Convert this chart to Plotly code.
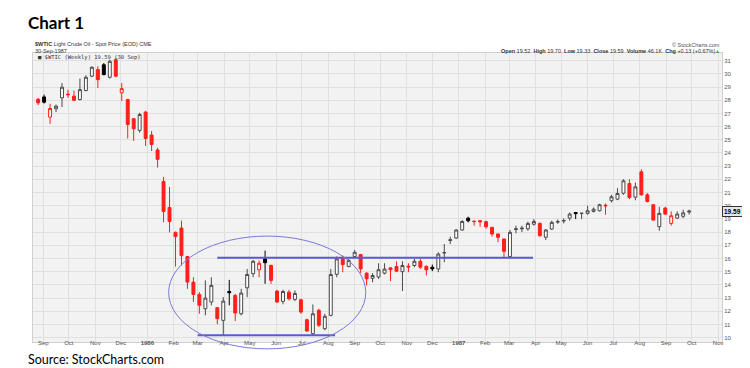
import pandas as pd
import plotly.graph_objects as go

# ---------------- data (weekly candles) ----------------
weeks = pd.date_range("1985-08-26", periods=110, freq="7D")

open_ = [28.07, 28.25, 26.72, 27.35, 28.18, 28.40, 28.31, 28.05, 28.73, 29.82,
         30.32, 30.69, 29.74, 31.07, 28.56, 28.05, 26.60, 25.71, 27.10,
         25.36, 24.23, 21.84, 19.87, 17.98, 18.31, 16.15, 14.21, 13.28, 12.19,
         12.70, 12.27, 11.31, 13.50, 13.20, 11.81, 13.78, 14.85, 15.14, 15.97,
         15.47, 13.53, 12.75, 13.45, 12.90, 12.87, 11.36, 10.30, 12.07, 10.68,
         11.69, 14.80, 16.10, 15.39, 16.15, 16.30, 14.89, 14.50, 14.60, 14.89,
         15.29, 15.39, 15.00, 15.42, 15.47, 15.79, 15.41, 15.34, 15.21, 16.42,
         17.36, 17.55,
         18.16, 19.06, 18.82, 18.87, 18.79, 18.36, 17.86, 17.48, 16.15, 18.20,
         18.25, 18.25, 18.60, 18.66, 17.61, 18.23, 18.76, 18.84, 19.06, 19.49,
         19.42, 19.42, 19.57, 19.62, 19.98, 20.38, 20.50, 20.95, 21.68, 20.65,
         22.57, 20.83, 20.08, 18.41, 19.82, 18.66, 19.06, 19.20, 19.52]

high = [28.18, 28.43, 27.73, 27.67, 29.31, 28.80, 28.73, 29.64, 29.89, 30.57,
        30.57, 30.82, 31.07, 31.20, 29.31, 28.10, 26.65, 27.05, 27.20,
        25.66, 24.40, 22.19, 21.43, 18.05, 18.87, 16.20, 14.58, 13.45, 14.34,
        14.58, 12.32, 13.07, 14.38, 13.32, 13.70, 15.21, 15.89, 15.85, 16.60,
        15.54, 13.63, 13.63, 13.63, 13.58, 12.95, 11.44, 12.52, 12.19, 11.81,
        15.21, 16.15, 16.22, 15.97, 16.65, 16.35, 14.96, 14.89, 15.64, 15.64,
        15.34, 15.79, 15.79, 15.64, 15.97, 15.97, 15.47, 15.54, 16.47, 17.10,
        17.66, 18.23,
        18.91, 19.17, 18.91, 18.88, 18.87, 18.41, 17.88, 17.50, 18.16, 18.49,
        18.49, 18.79, 18.99, 18.74, 18.23, 18.87, 18.95, 19.05, 19.49, 19.50,
        19.44, 20.00, 19.87, 20.15, 20.17, 20.83, 21.33, 22.01, 22.01, 21.76,
        22.76, 20.96, 20.10, 19.92, 19.92, 19.57, 19.57, 19.70, 19.70]

low = [27.63, 27.75, 26.21, 27.10, 27.48, 28.18, 27.93, 27.98, 28.68, 29.74,
       28.93, 29.89, 29.64, 29.74, 27.93, 25.10, 24.91, 25.54, 24.53,
       24.15, 22.90, 18.74, 17.98, 15.39, 15.47, 13.70, 12.70, 11.81, 11.69,
       12.45, 11.01, 10.20, 12.45, 11.26, 11.69, 13.07, 14.58, 14.58, 14.08,
       14.08, 12.62, 12.53, 12.82, 12.77, 11.81, 10.43, 10.18, 10.81, 10.56,
       11.62, 14.58, 14.96, 15.34, 16.04, 14.89, 13.96, 14.20, 14.46, 14.79,
       14.28, 14.96, 13.53, 14.96, 15.34, 15.21, 14.71, 15.04, 14.96, 15.72,
       17.10, 17.48,
       18.11, 18.74, 18.49, 18.41, 18.26, 17.66, 17.23, 16.09, 16.04, 17.91,
       18.00, 18.11, 18.49, 17.66, 17.40, 18.16, 18.63, 18.66, 18.87, 18.99,
       18.99, 19.32, 19.49, 19.57, 19.32, 20.25, 20.42, 20.83, 20.50, 20.42,
       20.76, 20.25, 18.87, 18.11, 19.30, 18.49, 18.99, 19.06, 19.33]

close = [27.80, 27.85, 27.37, 27.55, 28.99, 28.45, 28.00, 28.80, 29.74, 30.50,
         29.56, 29.94, 30.95, 29.82, 28.88, 26.16, 25.84, 26.92, 25.10,
         24.65, 23.52, 19.57, 18.81, 17.66, 16.22, 14.21, 13.28, 12.45, 13.00,
         13.96, 11.44, 12.77, 13.40, 11.87, 13.38, 14.79, 15.79, 15.64, 15.68,
         14.34, 12.70, 13.50, 12.95, 13.35, 11.94, 10.51, 11.81, 10.94, 11.62,
         14.79, 15.97, 15.54, 15.85, 16.47, 15.21, 14.46, 14.71, 15.15, 15.20,
         15.14, 15.04, 15.47, 15.36, 15.79, 15.34, 15.14, 15.21, 16.34, 16.45,
         17.42, 18.16,
         18.81, 18.86, 18.80, 18.78, 18.41, 17.86, 17.61, 16.55, 17.98, 18.25,
         18.30, 18.66, 18.81, 17.73, 18.16, 18.74, 18.80, 18.88, 19.37, 19.40,
         19.43, 19.62, 19.74, 20.08, 20.03, 20.68, 20.93, 21.89, 20.63, 21.43,
         20.83, 20.32, 18.91, 19.42, 19.37, 19.24, 19.37, 19.46, 19.59]

month_ticks = pd.date_range("1985-09-01", "1987-11-01", freq="MS")
month_labels = ["<b>%d</b>" % d.year if d.month == 1 else d.strftime("%b") for d in month_ticks]
price_ticks = list(range(10, 32))

support_level = 10.18
resistance_level = 16.05
support_span = ["1986-03-01", "1986-08-09"]
resistance_span = ["1986-03-24", "1987-03-29"]
base_ellipse_dates = ["1986-01-26", "1986-09-14"]
base_ellipse_prices = [9.15, 17.7]

# ---------------- figure ----------------
x_range = [pd.Timestamp("1985-08-20"), pd.Timestamp("1987-11-05 12:00")]
y_range = [9.67, 31.58]

RED = "#ff1f1a"
styles = {
    ("black", "hollow"): ("#4a4a4a", "#ffffff"),
    ("red", "hollow"): (RED, "#ffffff"),
    ("black", "filled"): ("#000000", "#000000"),
    ("red", "filled"): (RED, RED),
}

prev_close = [open_[0]] + close[:-1]
cats = []
for o, c, p in zip(open_, close, prev_close):
    cats.append(("red" if c < p else "black", "hollow" if c >= o else "filled"))

fig = go.Figure()
for key, (lc, fc) in styles.items():
    m = [k == key for k in cats]
    fig.add_trace(go.Candlestick(
        x=weeks,
        open=[v if ok else None for v, ok in zip(open_, m)],
        high=[v if ok else None for v, ok in zip(high, m)],
        low=[v if ok else None for v, ok in zip(low, m)],
        close=[v if ok else None for v, ok in zip(close, m)],
        increasing=dict(line=dict(color=lc, width=1), fillcolor=fc),
        decreasing=dict(line=dict(color=lc, width=1), fillcolor=fc),
        whiskerwidth=0,
        showlegend=False,
        hoverinfo="skip",
    ))

LINE = "#5a5ad2"
fig.add_shape(type="line", xref="x", yref="y", x0=support_span[0], x1=support_span[1],
              y0=support_level, y1=support_level, line=dict(color=LINE, width=2))
fig.add_shape(type="line", xref="x", yref="y", x0=resistance_span[0], x1=resistance_span[1],
              y0=resistance_level, y1=resistance_level, line=dict(color=LINE, width=2))


def xpaper(d):
    d = pd.Timestamp(d)
    return (d - x_range[0]) / (x_range[1] - x_range[0])


def ypaper(v):
    return (v - y_range[0]) / (y_range[1] - y_range[0])


fig.add_shape(type="circle", xref="paper", yref="paper",
              x0=xpaper(base_ellipse_dates[0]), x1=xpaper(base_ellipse_dates[1]),
              y0=ypaper(base_ellipse_prices[0]), y1=ypaper(base_ellipse_prices[1]),
              line=dict(color="#7a7ad8", width=1))

SMALL = "Liberation Sans, Arial, sans-serif"
TITLE = "Lato, 'Open Sans', sans-serif"
ann = []
ann.append(dict(xref="paper", yref="paper", x=-0.0105, y=1.104, xanchor="left", yanchor="middle",
                text="<b>Chart 1</b>", showarrow=False, font=dict(family=TITLE, size=17, color="#000")))
ann.append(dict(xref="paper", yref="paper", x=-0.0105, y=-0.062, xanchor="left", yanchor="middle",
                text="Source: StockCharts.com", showarrow=False, font=dict(family=TITLE, size=12.5, color="#000")))
ann.append(dict(xref="paper", yref="paper", x=0.0, y=1.030, xanchor="left", yanchor="middle",
                text="<b>$WTIC</b> Light Crude Oil - Spot Price (EOD) CME", showarrow=False,
                font=dict(family=SMALL, size=5.5, color="#333")))
ann.append(dict(xref="paper", yref="paper", x=0.0, y=1.008, xanchor="left", yanchor="middle",
                text="30-Sep-1987", showarrow=False, font=dict(family=SMALL, size=5.5, color="#333")))
ann.append(dict(xref="paper", yref="paper", x=0.004, y=0.986, xanchor="left", yanchor="middle",
                text="■ $WTIC (Weekly) 19.59 (30 Sep)", showarrow=False,
                font=dict(family="DejaVu Sans Mono, monospace", size=5.5, color="#333")))
ann.append(dict(xref="paper", yref="paper", x=1.0, y=1.028, xanchor="right", yanchor="middle",
                text="© StockCharts.com", showarrow=False, font=dict(family=SMALL, size=5.5, color="#555")))
ann.append(dict(xref="paper", yref="paper", x=0.993, y=1.006, xanchor="right", yanchor="middle",
                text="<b>Open</b> 19.52  <b>High</b> 19.70  <b>Low</b> 19.33  <b>Close</b> 19.59  "
                     "<b>Volume</b> 46.1K  <b>Chg</b> +0.13 (+0.67%)",
                showarrow=False, font=dict(family=SMALL, size=5.5, color="#333")))
ann.append(dict(xref="paper", yref="paper", x=1.0, y=1.006, xanchor="right", yanchor="middle",
                text="▲", showarrow=False, font=dict(family=SMALL, size=5, color="#22bb22")))
ann.append(dict(xref="paper", yref="y", x=1.0, y=close[-1], xanchor="left", yanchor="middle",
                text="<b>%.2f</b>" % close[-1], showarrow=False, bgcolor="#e6e6e6",
                bordercolor="#333", borderwidth=1, borderpad=1,
                font=dict(family=SMALL, size=6.5, color="#000")))

fig.update_layout(
    width=750, height=368,
    margin=dict(l=25, r=36, t=45, b=34),
    paper_bgcolor="#ffffff",
    plot_bgcolor="#f2f2f2",
    annotations=ann,
    showlegend=False,
    boxgap=0.3,
)
fig.update_xaxes(
    type="date", range=x_range, rangeslider=dict(visible=False),
    tickmode="array", tickvals=month_ticks, ticktext=month_labels,
    tickfont=dict(family=SMALL, size=6, color="#555"),
    ticklabelstandoff=-5,
    showgrid=True, gridcolor="#e0e0e0", gridwidth=1,
    showline=True, linecolor="#d0d0d0", mirror=True, ticks="", zeroline=False,
)
fig.update_yaxes(
    side="right", range=y_range, tickmode="array", tickvals=price_ticks,
    tickfont=dict(family=SMALL, size=6, color="#555"),
    showgrid=True, gridcolor="#e0e0e0", gridwidth=1,
    showline=True, linecolor="#d0d0d0", mirror=True, ticks="", zeroline=False,
)

fig.write_html("out.html")
